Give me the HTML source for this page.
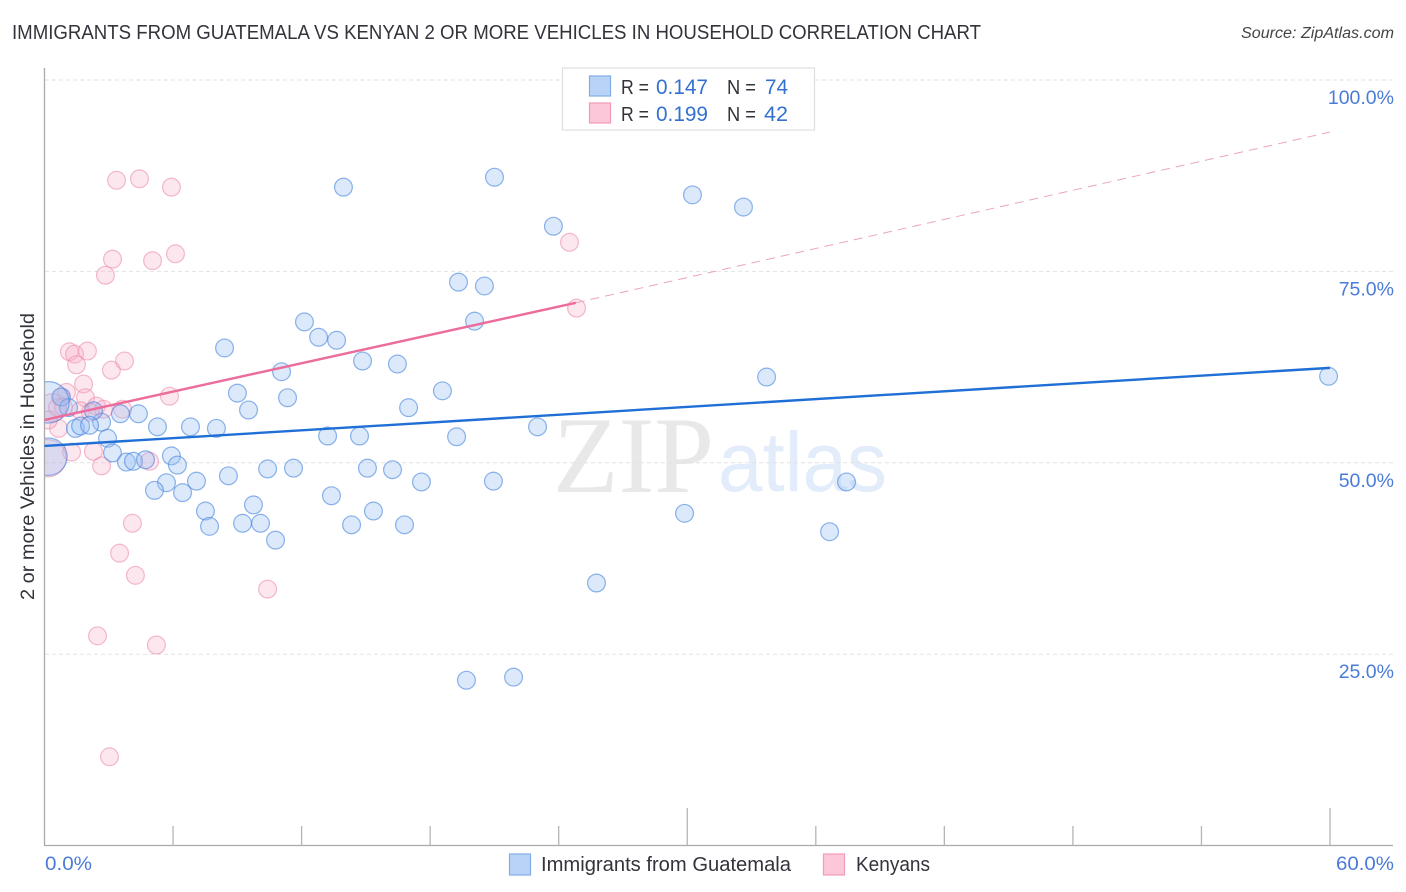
<!DOCTYPE html>
<html lang="en">
<head>
<meta charset="utf-8">
<title>Immigrants from Guatemala vs Kenyan 2 or more Vehicles in Household Correlation Chart</title>
<style>
html,body{margin:0;padding:0;background:#fff;}
svg{display:block;font-family:"Liberation Sans",sans-serif;}
</style>
</head>
<body>
<svg id="chart" xmlns="http://www.w3.org/2000/svg" width="1406" height="892" viewBox="0 0 1406 892">
  <defs>
    <clipPath id="plot-clip"><rect x="45" y="60" width="1350" height="785"/></clipPath>
  </defs>
  <text x="12" y="39" font-size="20" fill="#33333b" textLength="969" lengthAdjust="spacingAndGlyphs">IMMIGRANTS FROM GUATEMALA VS KENYAN 2 OR MORE VEHICLES IN HOUSEHOLD CORRELATION CHART</text>
  <text x="1241" y="38" font-size="15.5" font-style="italic" fill="#444" textLength="153" lengthAdjust="spacingAndGlyphs">Source: ZipAtlas.com</text>

  <g>
    <text x="553" y="492" font-family="'Liberation Serif',serif" font-size="109" fill="#e8e8e8" textLength="161" lengthAdjust="spacingAndGlyphs">ZIP</text>
    <text x="718" y="491" font-size="84" fill="#e3ecfa" textLength="169" lengthAdjust="spacingAndGlyphs">atlas</text>
  </g>

  <g id="grid"></g>
  <g id="axes"></g>
  <g id="pink-points" clip-path="url(#plot-clip)"></g>
  <g id="blue-points" clip-path="url(#plot-clip)"></g>
  <g id="trends"></g>
  <g id="y-labels"></g>
  <g id="x-labels"></g>

  <text transform="translate(34,600) rotate(-90)" font-size="19.5" fill="#33333b" textLength="287" lengthAdjust="spacingAndGlyphs">2 or more Vehicles in Household</text>

  <g>
    <rect x="562.5" y="68" width="252" height="62" fill="#fff" stroke="#dedede" stroke-width="1.2"/>
    <rect x="589.5" y="76" width="21" height="20" fill="#b9d3f6" stroke="#82ade8" stroke-width="1.2"/>
    <rect x="589.5" y="103" width="21" height="20" fill="#fcc8d9" stroke="#f29ab8" stroke-width="1.2"/>
    <text x="621" y="94" font-size="20" fill="#33333b" textLength="28" lengthAdjust="spacingAndGlyphs">R =</text>
    <text x="656" y="94" font-size="21" fill="#3370d0" textLength="52" lengthAdjust="spacingAndGlyphs">0.147</text>
    <text x="727" y="94" font-size="20" fill="#33333b" textLength="29" lengthAdjust="spacingAndGlyphs">N =</text>
    <text x="765" y="94" font-size="21" fill="#3370d0" textLength="23" lengthAdjust="spacingAndGlyphs">74</text>
    <text x="621" y="121" font-size="20" fill="#33333b" textLength="28" lengthAdjust="spacingAndGlyphs">R =</text>
    <text x="656" y="121" font-size="21" fill="#3370d0" textLength="52" lengthAdjust="spacingAndGlyphs">0.199</text>
    <text x="727" y="121" font-size="20" fill="#33333b" textLength="29" lengthAdjust="spacingAndGlyphs">N =</text>
    <text x="764" y="121" font-size="21" fill="#3370d0" textLength="24" lengthAdjust="spacingAndGlyphs">42</text>
  </g>

  <g>
    <rect x="509.5" y="854" width="21" height="21" fill="#b9d3f6" stroke="#82ade8" stroke-width="1.2"/>
    <text x="541" y="871" font-size="20" fill="#33333b" textLength="250" lengthAdjust="spacingAndGlyphs">Immigrants from Guatemala</text>
    <rect x="823.5" y="854" width="21" height="21" fill="#fcc8d9" stroke="#f29ab8" stroke-width="1.2"/>
    <text x="856" y="871" font-size="20" fill="#33333b" textLength="74" lengthAdjust="spacingAndGlyphs">Kenyans</text>
  </g>
</svg>
<script>
const yTickValues = [25, 50, 75, 100];
const yTickLabels = ['25.0%', '50.0%', '75.0%', '100.0%'];
const xTickValues = [0, 6, 12, 18, 24, 30, 36, 42, 48, 54, 60];
const xMajorTicks = [30, 60];
const xEndLabels = ['0.0%', '60.0%'];

const blueX = [59.91,20.98,13.93,30.22,32.60,23.73,19.30,20.51,12.11,20.05,12.77,13.61,8.38,14.82,16.45,11.04,33.68,18.55,8.98,11.32,0.77,9.50,16.97,4.36,3.52,2.64,2.26,1.10,1.42,1.66,2.08,5.25,6.79,8.00,13.19,14.68,19.21,22.99,2.92,3.15,5.90,3.80,4.13,4.69,6.18,10.39,11.60,15.05,16.22,8.56,7.07,5.67,5.11,6.42,17.57,20.93,37.41,13.37,9.73,7.49,15.33,29.85,7.68,9.22,10.06,14.31,16.78,36.62,10.76,25.74,21.87,19.67,0.16,0.16];
const blueY = [61.3,87.3,86.0,85.0,83.4,80.9,73.6,73.1,68.4,68.5,66.4,66.0,65.0,63.3,62.9,61.9,61.2,59.4,59.1,58.5,58.6,56.9,57.2,56.4,56.4,55.3,56.8,57.2,54.5,54.8,54.9,54.7,54.7,54.5,53.5,53.5,53.4,54.7,53.2,51.3,50.9,50.1,50.2,50.4,49.7,49.2,49.3,49.3,49.1,48.3,47.6,47.4,46.4,46.1,47.5,47.6,47.5,45.7,44.5,43.7,43.7,43.4,41.7,42.1,42.1,41.9,41.9,41.0,39.9,34.3,22.0,21.6,57.9,50.8];
const blueWeight = [1,1,1,1,1,1,1,1,1,1,1,1,1,1,1,1,1,1,1,1,1,1,1,1,1,1,1,1,1,1,1,1,1,1,1,1,1,1,1,1,1,1,1,1,1,1,1,1,1,1,1,1,1,1,1,1,1,1,1,1,1,1,1,1,1,1,1,1,1,1,1,1,5.4,4.4];

const pinkX = [3.34,4.41,5.90,24.48,6.09,5.02,3.15,2.82,24.81,1.14,1.38,1.98,1.47,3.10,3.71,1.80,1.00,1.89,5.81,2.40,2.73,3.62,0.63,1.24,2.26,2.64,4.88,4.08,3.48,4.22,10.39,2.45,5.20,3.01,0.12,0.35,0.58,1.66,0.72,0.86,2.12,0.16];
const pinkY = [86.9,87.1,86.0,78.8,77.3,76.4,76.6,74.5,70.2,64.5,64.2,64.6,62.8,62.1,63.3,60.3,59.2,58.5,58.7,57.4,57.0,57.0,54.5,51.4,51.5,49.6,50.2,42.1,38.2,35.3,33.5,27.4,26.2,11.6,50.6,57.2,57.2,56.8,58.6,57.3,56.6,55.6];
const pinkWeight = [1,1,1,1,1,1,1,1,1,1,1,1,1,1,1,1,1,1,1,1,1,1,1,1,1,1,1,1,1,1,1,1,1,1,4.4,2.5,1,1,1,1,1,1];

const blueTrendX = [0, 60];
const blueTrendY = [52.2, 62.4];
const pinkTrendX = [0, 24.8];
const pinkTrendY = [55.6, 70.9];
const pinkForecastX = [24.8, 60];
const pinkForecastY = [70.9, 93.2];

const NS = 'http://www.w3.org/2000/svg';
function xScale(v) { return 44.5 + v * (1285.5 / 60); }
function yScale(v) { return 845.6 - v * 7.656; }
function make(tag, attrs, parent) {
  const el = document.createElementNS(NS, tag);
  for (const k in attrs) el.setAttribute(k, attrs[k]);
  parent.appendChild(el);
  return el;
}

const grid = document.getElementById('grid');
yTickValues.forEach(function (v) {
  const el = make('line', {x1: 45, x2: 1393, y1: yScale(v), y2: yScale(v), stroke: '#e2e2e2', 'stroke-width': 1, 'stroke-dasharray': '4 3'}, grid);
  
  
});

const axes = document.getElementById('axes');
const yAxisLine = make('line', {x1: 44.5, x2: 44.5, y1: 68, y2: 846, stroke: '#aaa', 'stroke-width': 1.3}, axes);


const xAxisLine = make('line', {x1: 44, x2: 1393, y1: 845.5, y2: 845.5, stroke: '#aaa', 'stroke-width': 1.3}, axes);


xTickValues.forEach(function (v) {
  if (v === 0) return;
  const top = xMajorTicks.indexOf(v) >= 0 ? 808 : 826;
  const el = make('line', {x1: xScale(v), x2: xScale(v), y1: top, y2: 845.5, stroke: '#b5b5b5', 'stroke-width': 1.3}, axes);
  
  
});

const yLabels = document.getElementById('y-labels');
yTickValues.forEach(function (v, i) {
  const el = make('text', {x: 1394, y: yScale(v) + 24, 'text-anchor': 'end', 'font-size': 19.5, fill: '#4a7bd8'}, yLabels);
  
  
  el.textContent = yTickLabels[i];
});

const xLabels = document.getElementById('x-labels');
const xStart = make('text', {x: 45, y: 870, 'font-size': 19.5, fill: '#4a7bd8', textLength: 47, lengthAdjust: 'spacingAndGlyphs'}, xLabels);


xStart.textContent = xEndLabels[0];
const xEnd = make('text', {x: 1336, y: 870, 'font-size': 19.5, fill: '#4a7bd8', textLength: 58, lengthAdjust: 'spacingAndGlyphs'}, xLabels);


xEnd.textContent = xEndLabels[1];

function radius(w) { return 8.9 * Math.sqrt(w); }

const pinkGroup = document.getElementById('pink-points');
pinkX.forEach(function (v, i) {
  const el = make('circle', {cx: xScale(v) + 0.5, cy: yScale(pinkY[i]), r: radius(pinkWeight[i]), fill: 'rgba(248,175,198,0.3)', stroke: 'rgba(236,140,172,0.6)', 'stroke-width': 1.2}, pinkGroup);
  
  
});

const blueGroup = document.getElementById('blue-points');
blueX.forEach(function (v, i) {
  const el = make('circle', {cx: xScale(v) + 0.5, cy: yScale(blueY[i]), r: radius(blueWeight[i]), fill: 'rgba(150,190,242,0.34)', stroke: 'rgba(66,130,220,0.6)', 'stroke-width': 1.2}, blueGroup);
  
  
});

const trends = document.getElementById('trends');
const pinkForecast = make('line', {x1: xScale(pinkForecastX[0]), y1: yScale(pinkForecastY[0]), x2: xScale(pinkForecastX[1]), y2: yScale(pinkForecastY[1]), stroke: '#eba3bb', 'stroke-width': 1, 'stroke-dasharray': '9 6'}, trends);


const blueTrend = make('line', {x1: xScale(blueTrendX[0]), y1: yScale(blueTrendY[0]), x2: xScale(blueTrendX[1]), y2: yScale(blueTrendY[1]), stroke: '#1f6fd6', 'stroke-width': 2.4}, trends);


const pinkTrend = make('line', {x1: xScale(pinkTrendX[0]), y1: yScale(pinkTrendY[0]), x2: xScale(pinkTrendX[1]), y2: yScale(pinkTrendY[1]), stroke: '#ec6c9c', 'stroke-width': 2.4}, trends);


</script>
</body>
</html>
